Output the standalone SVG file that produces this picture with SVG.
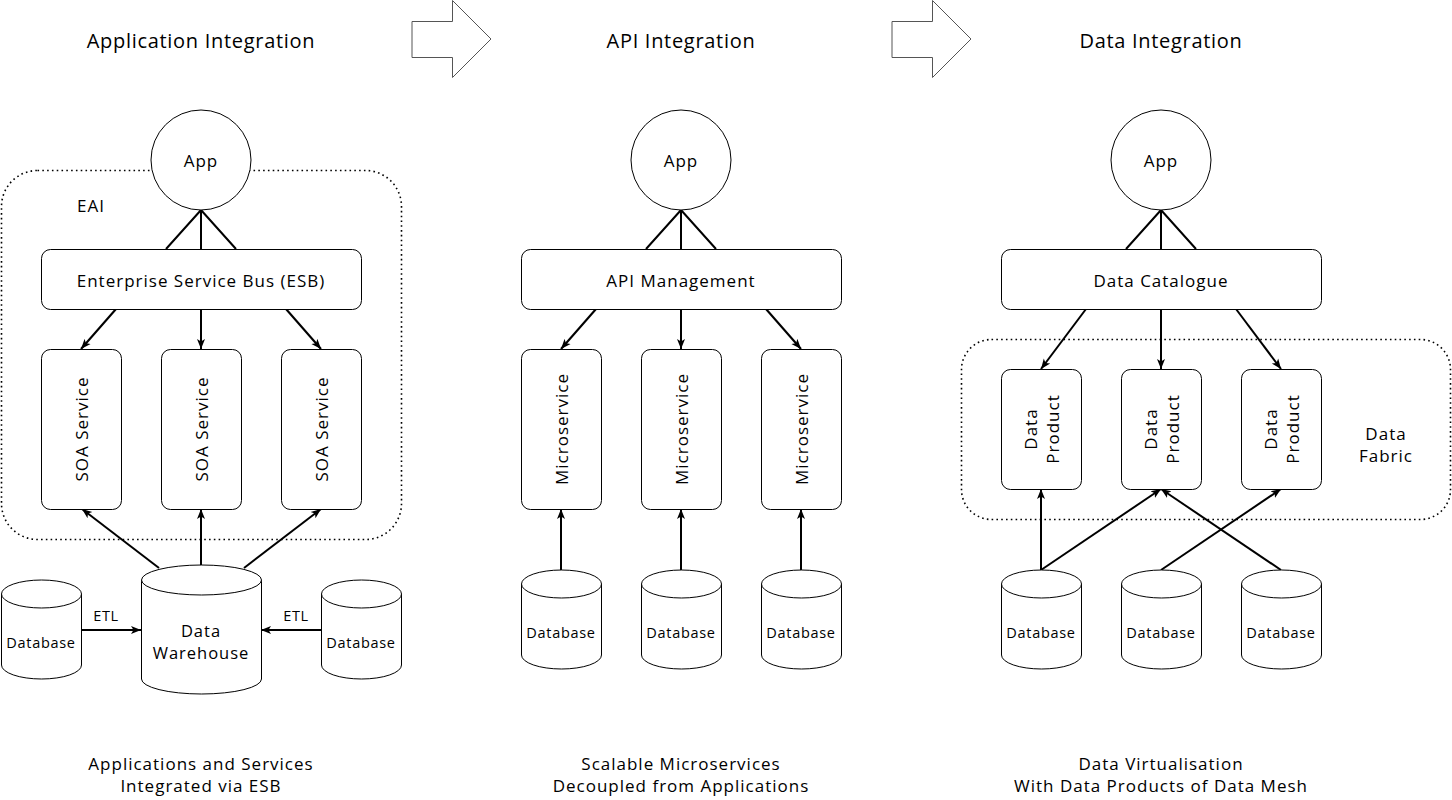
<svg xmlns="http://www.w3.org/2000/svg" width="1452" height="800" viewBox="0 0 1452 800">
<defs>
<marker id="ah" viewBox="0 0 10 10" refX="10" refY="5" markerWidth="10" markerHeight="10" markerUnits="userSpaceOnUse" orient="auto">
<path d="M0,1 L10,5 L0,9 L2.5,5 z" fill="#000"/>
</marker>
<style>
text{font-family:"Open Sans","Liberation Sans",sans-serif;fill:#000;text-anchor:middle;dominant-baseline:central}
.t{font-size:20px;letter-spacing:0.7px}
.n{font-size:17px;letter-spacing:1px}
.w{font-size:16.5px;letter-spacing:1px}
.s{font-size:14.5px;letter-spacing:0.7px}
.box{fill:#fff;stroke:#000;stroke-width:1}
.dot{fill:none;stroke:#000;stroke-width:1.6;stroke-dasharray:1.6 3.2}
.big{fill:#fff;stroke:#555;stroke-width:1}
.c{fill:none;stroke:#000;stroke-width:2}
.ca{fill:none;stroke:#000;stroke-width:2;marker-end:url(#ah)}
</style>
</defs>
<rect width="1452" height="800" fill="#fff"/>

<g id="titles">
<text class="t" x="201" y="40">Application Integration</text>
<text class="t" x="681" y="40">API Integration</text>
<text class="t" x="1161" y="40">Data Integration</text>
</g>
<g id="bigarrow1"><path class="big" d="M412,21.5 H452.5 V0.5 L491,39 L452.5,77.5 V57.5 H412 Z"/></g>
<g id="bigarrow2"><path class="big" d="M892,21.5 H932.5 V0.5 L971,39 L932.5,77.5 V57.5 H892 Z"/></g>

<g id="eai">
<rect class="dot" x="1.5" y="170.5" width="400" height="369" rx="36"/>
<text class="n" x="91" y="205">EAI</text>
</g>
<g id="datafabric">
<rect class="dot" x="961.5" y="339.5" width="489" height="180" rx="30"/>
<text class="n" x="1386" y="433">Data</text>
<text class="n" x="1386" y="455">Fabric</text>
</g>

<g id="connectors">
<path class="c" d="M201,210 L166,249 M201,210 L201,249 M201,210 L236,249"/>
<path class="c" d="M681,210 L646,249 M681,210 L681,249 M681,210 L716,249"/>
<path class="c" d="M1161,210 L1126,249 M1161,210 L1161,249 M1161,210 L1196,249"/>
<path class="ca" d="M116,309 L81,349"/>
<path class="ca" d="M201,309 L201,349"/>
<path class="ca" d="M286,309 L321,349"/>
<path class="ca" d="M596,309 L561,349"/>
<path class="ca" d="M681,309 L681,349"/>
<path class="ca" d="M766,309 L801,349"/>
<path class="ca" d="M1086,309 L1041,369"/>
<path class="ca" d="M1161,309 L1161,369"/>
<path class="ca" d="M1236,309 L1281,369"/>
<path class="ca" d="M159,568 L82,509"/>
<path class="ca" d="M201,565 L201,509"/>
<path class="ca" d="M244,568 L321,509"/>
<path class="ca" d="M81,630 L141,630"/>
<text class="s" x="106" y="615">ETL</text>
<path class="ca" d="M321,630 L261,630"/>
<text class="s" x="296" y="615">ETL</text>
<path class="ca" d="M561,570 L561,509"/>
<path class="ca" d="M681,570 L681,509"/>
<path class="ca" d="M801,570 L801,509"/>
<path class="ca" d="M1041,570 L1041,489"/>
<path class="ca" d="M1041,570 L1161,489"/>
<path class="ca" d="M1161,570 L1281,489"/>
<path class="ca" d="M1281,570 L1161,489"/>
</g>

<g id="app1"><circle class="box" cx="201" cy="160" r="50"/><text class="n" x="201" y="160">App</text></g>
<g id="app2"><circle class="box" cx="681" cy="160" r="50"/><text class="n" x="681" y="160">App</text></g>
<g id="app3"><circle class="box" cx="1161" cy="160" r="50"/><text class="n" x="1161" y="160">App</text></g>

<g id="esb"><rect class="box" x="41.5" y="249.5" width="320" height="60" rx="9"/><text class="n" x="201" y="280">Enterprise Service Bus (ESB)</text></g>
<g id="apim"><rect class="box" x="521.5" y="249.5" width="320" height="60" rx="9"/><text class="n" x="681" y="280">API Management</text></g>
<g id="catalogue"><rect class="box" x="1001.5" y="249.5" width="320" height="60" rx="9"/><text class="n" x="1161" y="280">Data Catalogue</text></g>

<g id="soa1"><rect class="box" x="41.5" y="349.5" width="80" height="160" rx="9"/><text class="n" x="81" y="429" transform="rotate(-90 81 429)">SOA Service</text></g>
<g id="soa2"><rect class="box" x="161.5" y="349.5" width="80" height="160" rx="9"/><text class="n" x="201" y="429" transform="rotate(-90 201 429)">SOA Service</text></g>
<g id="soa3"><rect class="box" x="281.5" y="349.5" width="80" height="160" rx="9"/><text class="n" x="321" y="429" transform="rotate(-90 321 429)">SOA Service</text></g>

<g id="ms1"><rect class="box" x="521.5" y="349.5" width="80" height="160" rx="9"/><text class="n" x="561" y="429" transform="rotate(-90 561 429)">Microservice</text></g>
<g id="ms2"><rect class="box" x="641.5" y="349.5" width="80" height="160" rx="9"/><text class="n" x="681" y="429" transform="rotate(-90 681 429)">Microservice</text></g>
<g id="ms3"><rect class="box" x="761.5" y="349.5" width="80" height="160" rx="9"/><text class="n" x="801" y="429" transform="rotate(-90 801 429)">Microservice</text></g>

<g id="dp1"><rect class="box" x="1001.5" y="369.5" width="80" height="120" rx="9"/><g transform="rotate(-90 1041 429)"><text class="n" x="1041" y="418">Data</text><text class="n" x="1041" y="440">Product</text></g></g>
<g id="dp2"><rect class="box" x="1121.5" y="369.5" width="80" height="120" rx="9"/><g transform="rotate(-90 1161 429)"><text class="n" x="1161" y="418">Data</text><text class="n" x="1161" y="440">Product</text></g></g>
<g id="dp3"><rect class="box" x="1241.5" y="369.5" width="80" height="120" rx="9"/><g transform="rotate(-90 1281 429)"><text class="n" x="1281" y="418">Data</text><text class="n" x="1281" y="440">Product</text></g></g>

<g id="dw">
<path class="box" d="M141.5,580 A60,15 0 0 1 261.5,580 V679 A60,15 0 0 1 141.5,679 Z"/>
<path class="box" fill="none" d="M141.5,580 A60,15 0 0 0 261.5,580"/>
<text class="w" x="201" y="630.5">Data</text>
<text class="w" x="201" y="652.5">Warehouse</text>
</g>
<g id="db1"><path class="box" d="M1.5,594 A40,14 0 0 1 81.5,594 V665 A40,14 0 0 1 1.5,665 Z"/><path class="box" d="M1.5,594 A40,14 0 0 0 81.5,594"/><text class="s" x="41" y="642">Database</text></g>
<g id="db2"><path class="box" d="M321.5,594 A40,14 0 0 1 401.5,594 V665 A40,14 0 0 1 321.5,665 Z"/><path class="box" d="M321.5,594 A40,14 0 0 0 401.5,594"/><text class="s" x="361" y="642">Database</text></g>

<g id="db3"><path class="box" d="M521.5,584 A40,14 0 0 1 601.5,584 V655 A40,14 0 0 1 521.5,655 Z"/><path class="box" d="M521.5,584 A40,14 0 0 0 601.5,584"/><text class="s" x="561" y="632">Database</text></g>
<g id="db4"><path class="box" d="M641.5,584 A40,14 0 0 1 721.5,584 V655 A40,14 0 0 1 641.5,655 Z"/><path class="box" d="M641.5,584 A40,14 0 0 0 721.5,584"/><text class="s" x="681" y="632">Database</text></g>
<g id="db5"><path class="box" d="M761.5,584 A40,14 0 0 1 841.5,584 V655 A40,14 0 0 1 761.5,655 Z"/><path class="box" d="M761.5,584 A40,14 0 0 0 841.5,584"/><text class="s" x="801" y="632">Database</text></g>

<g id="db6"><path class="box" d="M1001.5,584 A40,14 0 0 1 1081.5,584 V655 A40,14 0 0 1 1001.5,655 Z"/><path class="box" d="M1001.5,584 A40,14 0 0 0 1081.5,584"/><text class="s" x="1041" y="632">Database</text></g>
<g id="db7"><path class="box" d="M1121.5,584 A40,14 0 0 1 1201.5,584 V655 A40,14 0 0 1 1121.5,655 Z"/><path class="box" d="M1121.5,584 A40,14 0 0 0 1201.5,584"/><text class="s" x="1161" y="632">Database</text></g>
<g id="db8"><path class="box" d="M1241.5,584 A40,14 0 0 1 1321.5,584 V655 A40,14 0 0 1 1241.5,655 Z"/><path class="box" d="M1241.5,584 A40,14 0 0 0 1321.5,584"/><text class="s" x="1281" y="632">Database</text></g>

<g id="captions">
<text class="n" x="201" y="763.5">Applications and Services</text>
<text class="n" x="201" y="785.5">Integrated via ESB</text>
<text class="n" x="681" y="763.5">Scalable Microservices</text>
<text class="n" x="681" y="785.5">Decoupled from Applications</text>
<text class="n" x="1161" y="763.5">Data Virtualisation</text>
<text class="n" x="1161" y="785.5">With Data Products of Data Mesh</text>
</g>
</svg>
